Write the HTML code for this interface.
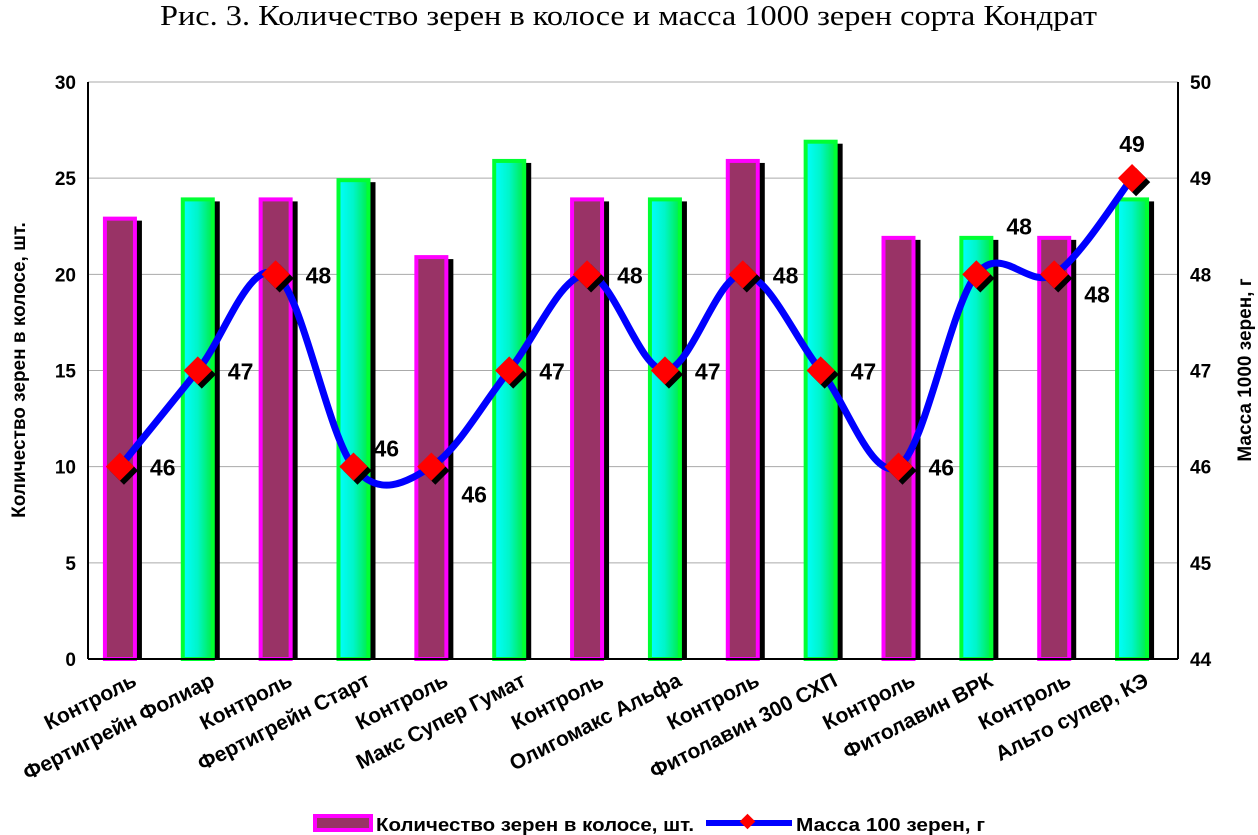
<!DOCTYPE html>
<html><head><meta charset="utf-8"><style>
body{margin:0;background:#fff;}
svg{display:block;font-family:"Liberation Sans",Arial,sans-serif;}
</style></head><body>
<svg id="chart" width="1258" height="835" viewBox="0 0 1258 835" xmlns="http://www.w3.org/2000/svg">
<defs>
<linearGradient id="tg" x1="0" x2="1" y1="0" y2="0"><stop offset="0" stop-color="#00ffff"/><stop offset="0.5" stop-color="#00f5c8"/><stop offset="1" stop-color="#00ee44"/></linearGradient>
</defs>
<text x="160" y="25" textLength="937" lengthAdjust="spacingAndGlyphs" font-family="Liberation Serif,serif" font-size="29">Рис. 3. Количество зерен в колосе и масса 1000 зерен сорта Кондрат</text>
<g id="grid"></g>
<g id="bars"></g>
<g id="line"></g>
<g id="axes"></g>
<text transform="translate(25,370) rotate(-90)" text-anchor="middle" font-size="19" font-weight="bold">Количество зерен в колосе, шт.</text>
<text transform="translate(1251,370) rotate(-90)" text-anchor="middle" font-size="19" font-weight="bold">Масса 1000 зерен, г</text>
<g>
<rect x="315" y="816" width="56" height="14" fill="#993366" stroke="#ff00ff" stroke-width="4"/>
<text x="376" y="831" textLength="318" lengthAdjust="spacingAndGlyphs" font-size="18" font-weight="bold">Количество зерен в колосе, шт.</text>
<line x1="706" y1="823" x2="792" y2="823" stroke="#0000ff" stroke-width="6"/>
<rect x="742" y="816" width="11" height="11" fill="#ff0000" transform="rotate(45 747.5 821.5)"/>
<text x="796" y="831" textLength="189" lengthAdjust="spacingAndGlyphs" font-size="18" font-weight="bold">Масса 100 зерен, г</text>
</g>
</svg>
<script>
const categories=["Контроль","Фертигрейн Фолиар","Контроль","Фертигрейн Старт","Контроль","Макс Супер Гумат","Контроль","Олигомакс Альфа","Контроль","Фитолавин 300 СХП","Контроль","Фитолавин ВРК","Контроль","Альто супер, КЭ"];
const grainCount=[23,24,24,25,21,26,24,24,26,27,22,22,22,24];
const mass=[46,47,48,46,46,47,48,47,48,47,46,48,48,49];
const leftTicks=[0,5,10,15,20,25,30];
const rightTicks=[44,45,46,47,48,49,50];
const NS="http://www.w3.org/2000/svg";
const X0=88,X1=1178,Y0=659,Y1=82;
const band=(X1-X0)/categories.length;
const xc=i=>X0+band*(i+0.5)-7;
const yL=v=>Y0-(v-0)/(30-0)*(Y0-Y1);
const yR=v=>Y0-(v-44)/(50-44)*(Y0-Y1);
function mk(tag,attrs,parent){const e=document.createElementNS(NS,tag);for(const k in attrs)e.setAttribute(k,attrs[k]);parent.appendChild(e);return e;}
const grid=document.getElementById('grid'),bars=document.getElementById('bars'),line=document.getElementById('line'),axes=document.getElementById('axes');
leftTicks.forEach(t=>{
 const g=mk('line',{x1:X0,x2:X1,y1:yL(t),y2:yL(t),stroke:'#aaa','stroke-width':1},grid);
 
 
 const tx=mk('text',{x:X0-12,y:yL(t)+7,'text-anchor':'end','font-size':19,'font-weight':'bold'},axes);
 tx.textContent=t;
 
 
});
rightTicks.forEach(t=>{
 const tx=mk('text',{x:X1+12,y:yR(t)+7,'font-size':19,'font-weight':'bold'},axes);
 tx.textContent=t;
 
 
});
mk('line',{x1:X0,x2:X0,y1:Y1,y2:Y0,stroke:'#000','stroke-width':2},axes);
mk('line',{x1:X1,x2:X1,y1:Y1,y2:Y0,stroke:'#000','stroke-width':2},axes);
mk('line',{x1:X0,x2:X1,y1:Y0,y2:Y0,stroke:'#000','stroke-width':2},axes);
const bw=34;
grainCount.forEach((v,i)=>{
 const x=xc(i)-bw/2,y=yL(v),ctrl=i%2===0;
 mk('rect',{x:x+5,y:y+4,width:bw,height:Y0-y-4,fill:'#000'},bars);
 const r=mk('rect',{x:x+2,y:y+2,width:bw-4,height:Y0-y-2,fill:ctrl?'#993366':'url(#tg)',stroke:ctrl?'#ff00ff':'#00ff33','stroke-width':4},bars);
 
 
 const t=mk('text',{transform:`translate(${xc(i)+18},${Y0+26}) rotate(-27)`,'text-anchor':'end','font-size':21,'font-weight':'bold'},axes);
 t.textContent=categories[i];
 
 
});
const pts=mass.map((v,i)=>[xc(i),yR(v)]);
let d=`M${pts[0][0]},${pts[0][1]}`;
for(let i=0;i<pts.length-1;i++){
 const p0=pts[Math.max(0,i-1)],p1=pts[i],p2=pts[i+1],p3=pts[Math.min(pts.length-1,i+2)];
 const c1=[p1[0]+(p2[0]-p0[0])/6,p1[1]+(p2[1]-p0[1])/6],c2=[p2[0]-(p3[0]-p1[0])/6,p2[1]-(p3[1]-p1[1])/6];
 d+=` C${c1[0]},${c1[1]} ${c2[0]},${c2[1]} ${p2[0]},${p2[1]}`;
}
const path=mk('path',{d:d,fill:'none',stroke:'#0000ff','stroke-width':7},line);


const off=[[30,9],[30,9],[30,9],[20,-10],[30,36],[30,9],[30,9],[30,9],[30,9],[30,9],[30,9],[30,-40],[30,28],[0,-26]];
pts.forEach((p,i)=>{
 mk('rect',{x:p[0]-10+4,y:p[1]-10+4,width:20,height:20,fill:'#000',transform:`rotate(45 ${p[0]+4} ${p[1]+4})`},line);
 const m=mk('rect',{x:p[0]-10,y:p[1]-10,width:20,height:20,fill:'#ff0000',transform:`rotate(45 ${p[0]} ${p[1]})`},line);
 
 
 const t=mk('text',{x:p[0]+off[i][0],y:p[1]+off[i][1],'text-anchor':i===13?'middle':'start','font-size':23,'font-weight':'bold'},line);
 t.textContent=mass[i];
 
 
});
</script>
</body></html>
